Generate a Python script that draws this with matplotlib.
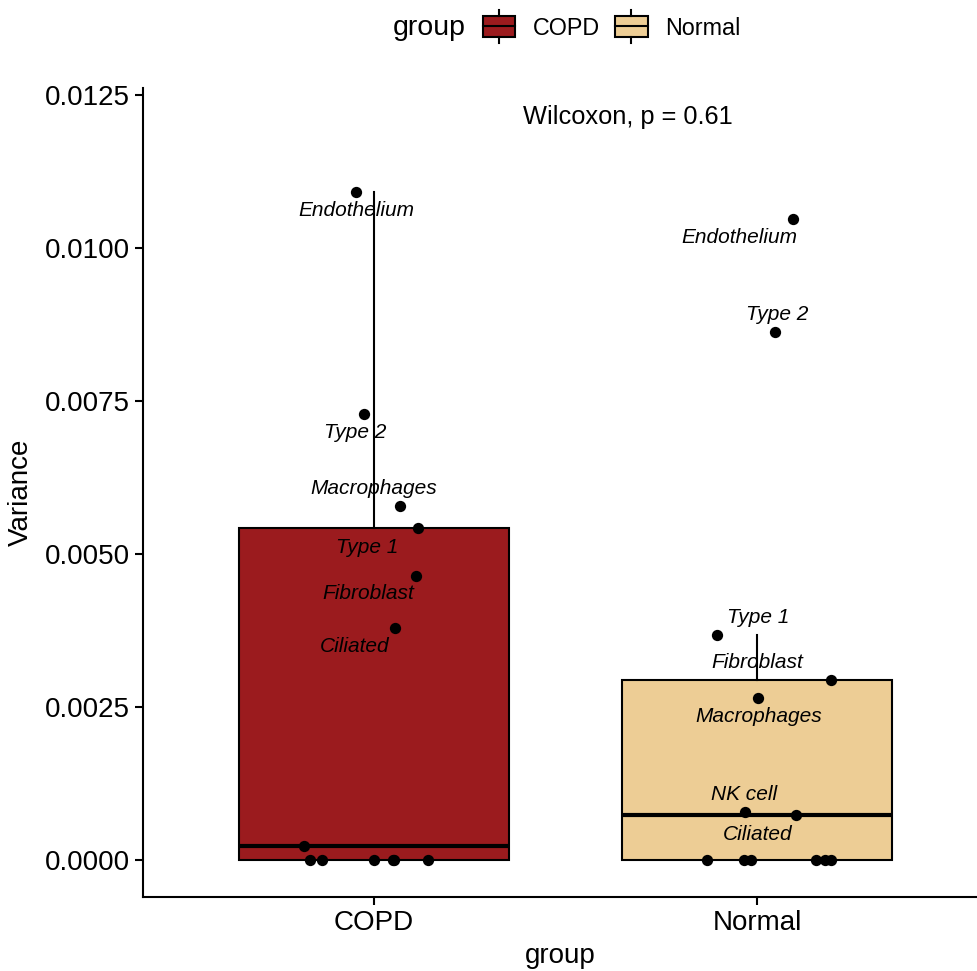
import matplotlib.pyplot as plt
from matplotlib.patches import Patch, Rectangle
from matplotlib.legend_handler import HandlerBase
from matplotlib.lines import Line2D
from matplotlib.offsetbox import HPacker

plt.rcParams['font.family'] = ['Liberation Sans', 'DejaVu Sans']

groups = ['COPD', 'Normal']
colors = ['#9B1B1E', '#EDCD95']

# variance per cell type, labelled ones first, unlabelled zeros after
copd_cells = ['Endothelium', 'Type 2', 'Macrophages', 'Type 1', 'Fibroblast', 'Ciliated', '']
copd_vals = [0.010915, 0.007288, 0.005784, 0.005425, 0.004641, 0.003791, 0.000229,
             0, 0, 0, 0, 0, 0]
copd_jitter = [-0.047, -0.026, 0.068, 0.115, 0.110, 0.055, -0.183,
               -0.167, -0.136, 0.0, 0.052, 0.141, 0.05]

normal_cells = ['Endothelium', 'Type 2', 'Type 1', 'Fibroblast', 'Macrophages', 'NK cell', 'Ciliated']
normal_vals = [0.010474, 0.008627, 0.003676, 0.002941, 0.002647, 0.000784, 0.000735,
               0, 0, 0, 0, 0, 0]
normal_jitter = [0.094, 0.047, -0.104, 0.193, 0.003, -0.031, 0.102,
                 -0.131, -0.034, -0.016, 0.154, 0.178, 0.193]

# text label placement (x offset from group centre, y in data units)
copd_lab_dx = [-0.047, -0.050, 0.0, -0.018, -0.016, -0.050]
copd_lab_y = [0.010605, 0.006977, 0.006062, 0.005098, 0.004346, 0.003480]
normal_lab_dx = [-0.047, 0.052, 0.003, 0.0, 0.005, -0.034, 0.003]
normal_lab_y = [0.010163, 0.008905, 0.003954, 0.003219, 0.002337, 0.001062, 0.000408]

fig = plt.figure(figsize=(9.78, 9.71), dpi=100)
ax = fig.add_axes([143 / 978, 74 / 971, 835 / 978, 809 / 971])

data = [copd_vals, normal_vals]
bp = ax.boxplot(data, positions=[1, 2], widths=0.705, patch_artist=True,
                showfliers=False, whis=1.5,
                medianprops=dict(color='black', linewidth=3),
                boxprops=dict(edgecolor='black', linewidth=1.5),
                whiskerprops=dict(color='black', linewidth=1.5),
                capprops=dict(linewidth=0))
for patch, c in zip(bp['boxes'], colors):
    patch.set_facecolor(c)

for pos, vals, jit in [(1, copd_vals, copd_jitter), (2, normal_vals, normal_jitter)]:
    ax.scatter([pos + j for j in jit], vals, s=66, color='black', zorder=5, linewidths=0)

for pos, cells, dx, ly in [(1, copd_cells, copd_lab_dx, copd_lab_y),
                           (2, normal_cells, normal_lab_dx, normal_lab_y)]:
    for name, d, y in zip(cells, dx, ly):
        if name:
            ax.text(pos + d, y, name, fontsize=15, style='italic',
                    ha='center', va='center', zorder=6)

ax.text(1.663, 0.01214, 'Wilcoxon, p = 0.61', fontsize=18.3, ha='center', va='center')

ax.set_xlim(0.397, 2.577)
ax.set_ylim(-0.000605, 0.01261)
ax.set_yticks([0, 0.0025, 0.005, 0.0075, 0.01, 0.0125])
ax.set_yticklabels(['0.0000', '0.0025', '0.0050', '0.0075', '0.0100', '0.0125'])
ax.set_xticks([1, 2])
ax.set_xticklabels(groups)
ax.tick_params(labelsize=20, width=1.5, length=6, color='black', labelcolor='black')
ax.set_xlabel('group', fontsize=20, labelpad=5)
ax.set_ylabel('Variance', fontsize=20, labelpad=8)
for s in ['top', 'right']:
    ax.spines[s].set_visible(False)
for s in ['left', 'bottom']:
    ax.spines[s].set_linewidth(1.5)


class BoxKey(HandlerBase):
    def create_artists(self, legend, orig, x0, y0, w, h, fontsize, trans):
        cx = x0 + w / 2
        rect = Rectangle((x0, y0 - h * 0.12), w, h * 1.24,
                         facecolor=orig.get_facecolor(), edgecolor='black',
                         linewidth=1.5, transform=trans)
        mid = Line2D([x0, x0 + w], [y0 + h / 2, y0 + h / 2],
                     color='black', linewidth=1.5, transform=trans)
        v1 = Line2D([cx, cx], [y0 - h * 0.5, y0 - h * 0.12], color='black',
                    linewidth=1.5, transform=trans)
        v2 = Line2D([cx, cx], [y0 + h * 1.12, y0 + h * 1.5], color='black',
                    linewidth=1.5, transform=trans)
        return [rect, mid, v1, v2]


handles = [Patch(facecolor=c, label=g) for g, c in zip(groups, colors)]
leg = fig.legend(handles=handles, loc='center', bbox_to_anchor=(0.5795, 0.971),
                 ncol=2, frameon=False, fontsize=16.8, title='group',
                 title_fontsize=20.5, handler_map={Patch: BoxKey()},
                 handlelength=1.4, handletextpad=0.75, columnspacing=0.65)
# put title on the left of the entries
title = leg._legend_title_box
body = leg._legend_handle_box
leg._legend_box._children = [HPacker(children=[title, body], align='center',
                                     pad=0, sep=12)]

fig.savefig('out.png', dpi=100)
